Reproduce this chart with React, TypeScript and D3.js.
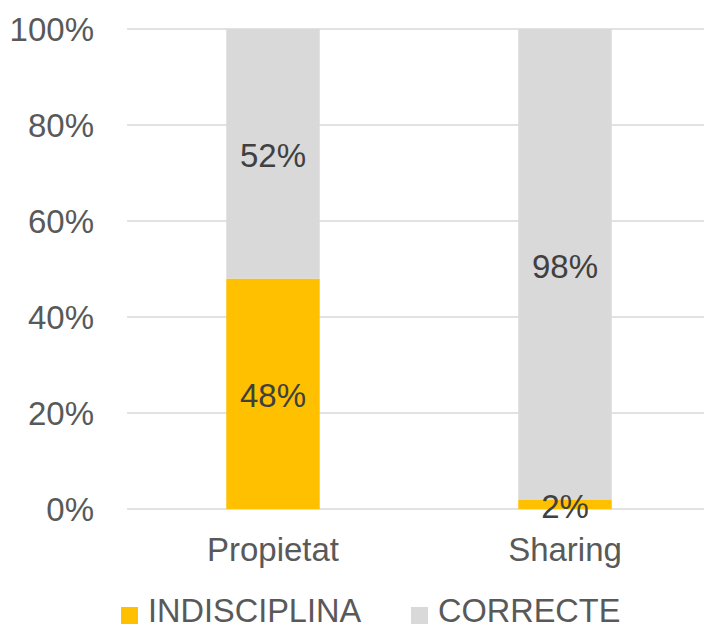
import React from "react";
import * as d3 from "d3";

const categories = ["Propietat", "Sharing"];
const seriesNames = ["INDISCIPLINA", "CORRECTE"];
const indisciplina = [0.48, 0.02];
const correcte = [0.52, 0.98];
const yTicks = [0, 0.2, 0.4, 0.6, 0.8, 1.0];
const colors = ["#FFC000", "#D9D9D9"];

export default function App() {
  const W = 704, H = 628;
  const x = d3.scaleBand().domain(categories).range([127, 711]).paddingInner(0.68).paddingOuter(0.34);
  const y = d3.scaleLinear().domain([0, 1]).range([509, 29]);
  const fmt = d3.format(".0%");
  const font = "'Liberation Sans', Arial, sans-serif";
  const rows = categories.map((c, i) => ({ cat: c, INDISCIPLINA: indisciplina[i], CORRECTE: correcte[i] }));
  const stack = d3.stack<any>().keys(seriesNames)(rows);

  return (
    <svg width={W} height={H} style={{ position: "absolute", left: 0, top: 0 }} fontFamily={font}>
      <rect width={W} height={H} fill="#fff" />
      {yTicks.map((t) => (
        <g key={t}>
          <line x1={127} x2={W} y1={y(t)} y2={y(t)} stroke="#d9d9d9" strokeWidth={1.5} />
          <text x={94} y={y(t)} textAnchor="end" dominantBaseline="central" fontSize={33} fill="#595959">
            {fmt(t)}
          </text>
        </g>
      ))}
      {stack.map((s, si) =>
        s.map((d, i) => (
          <rect
            key={si + "-" + i}
            x={x(categories[i])!}
            width={x.bandwidth()}
            y={y(d[1])}
            height={y(d[0]) - y(d[1])}
            fill={colors[si]}
          />
        ))
      )}
      {stack.map((s, si) =>
        s.map((d, i) => (
          <text
            key={"l" + si + "-" + i}
            x={x(categories[i])! + x.bandwidth() / 2}
            y={y((d[0] + d[1]) / 2) + 2}
            textAnchor="middle"
            dominantBaseline="central"
            fontSize={33}
            fill="#404040"
          >
            {fmt(d[1] - d[0])}
          </text>
        ))
      )}
      {categories.map((c) => (
        <text key={c} x={x(c)! + x.bandwidth() / 2} y={549} textAnchor="middle" dominantBaseline="central" fontSize={33} fill="#595959">
          {c}
        </text>
      ))}
      {seriesNames.map((n, i) => {
        const lx = [121, 411][i];
        return (
          <g key={n}>
            <rect x={lx} y={607} width={17} height={17} fill={colors[i]} />
            <text x={lx + 27} y={611} dominantBaseline="central" fontSize={32.5} fill="#595959">
              {n}
            </text>
          </g>
        );
      })}
    </svg>
  );
}
